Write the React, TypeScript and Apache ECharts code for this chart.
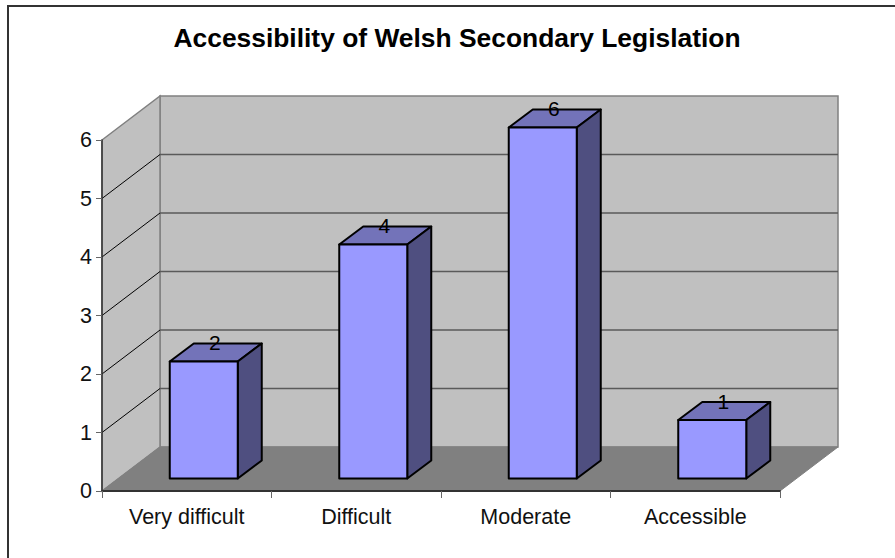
import React, { useEffect, useRef } from "react";
import * as echarts from "echarts";

const categories = ["Very difficult", "Difficult", "Moderate", "Accessible"];
const responses = [2, 4, 6, 1];
const yTicks = [0, 1, 2, 3, 4, 5, 6];

const FONT = "'Liberation Sans', Arial, sans-serif";
// Pseudo-3D projection: offset of the back wall from the front plane, and of the bars within the depth.
const DEPTH_X = 58;
const DEPTH_Y = -44;
const BAR_SHIFT_X = 17;
const BAR_SHIFT_Y = -12.5;
const BAR_DEPTH_X = 24;
const BAR_DEPTH_Y = -18;
const BAR_WIDTH = 68;

function renderWalls(_params: any, api: any) {
  const tick = api.value(0);
  const [x0, y0] = api.coord([0, 0]) as number[];
  const size = api.size([1, 0]) as number[];
  const x1 = x0 + size[0] * categories.length;
  const x0adj = x0 - size[0] / 2;
  const x1adj = x1 - size[0] / 2;
  const yT = api.coord([0, tick])[1];
  const children: any[] = [];
  const grey = { stroke: "#808080", lineWidth: 1.5 };
  if (tick === yTicks[yTicks.length - 1]) {
    // Back and side walls, once behind everything
    children.push({
      type: "polygon",
      shape: {
        points: [
          [x0adj + DEPTH_X, yT + DEPTH_Y],
          [x1adj + DEPTH_X, yT + DEPTH_Y],
          [x1adj + DEPTH_X, y0 + DEPTH_Y],
          [x0adj + DEPTH_X, y0 + DEPTH_Y],
        ],
      },
      style: { fill: "#c0c0c0", ...grey },
    });
    children.push({
      type: "polygon",
      shape: {
        points: [
          [x0adj, yT],
          [x0adj + DEPTH_X, yT + DEPTH_Y],
          [x0adj + DEPTH_X, y0 + DEPTH_Y],
          [x0adj, y0],
        ],
      },
      style: { fill: "#c0c0c0", ...grey },
    });
    children.push({
      type: "polygon",
      shape: {
        points: [
          [x0adj, y0],
          [x0adj + DEPTH_X, y0 + DEPTH_Y],
          [x1adj + DEPTH_X, y0 + DEPTH_Y],
          [x1adj, y0],
        ],
      },
      style: { fill: "#808080", stroke: "#808080", lineWidth: 1 },
    });
  }
  if (tick > 0 && tick < yTicks[yTicks.length - 1]) {
    children.push({
      type: "polyline",
      shape: {
        points: [
          [x0adj, yT],
          [x0adj + DEPTH_X, yT + DEPTH_Y],
        ],
      },
      style: { stroke: "#000", lineWidth: 1, fill: "none" },
    });
    children.push({
      type: "line",
      shape: { x1: x0adj + DEPTH_X, y1: yT + DEPTH_Y, x2: x1adj + DEPTH_X, y2: yT + DEPTH_Y },
      style: { stroke: "#5a5a5a", lineWidth: 1.5 },
    });
  }
  return { type: "group", children };
}

function renderBar(_params: any, api: any) {
  const idx = api.value(0);
  const val = api.value(1);
  const [cx, top] = api.coord([idx, val]) as number[];
  const bottom = api.coord([idx, 0])[1];
  const l = cx + BAR_SHIFT_X - BAR_WIDTH / 2;
  const r = l + BAR_WIDTH;
  const t = top + BAR_SHIFT_Y;
  const b = bottom + BAR_SHIFT_Y;
  const dx = BAR_DEPTH_X;
  const dy = BAR_DEPTH_Y;
  const edge = { stroke: "#000", lineWidth: 2, lineJoin: "round" };
  return {
    type: "group",
    children: [
      {
        type: "polygon",
        shape: { points: [[l, t], [l + dx, t + dy], [r + dx, t + dy], [r, t]] },
        style: { fill: "#7373b9", ...edge },
      },
      {
        type: "polygon",
        shape: { points: [[r, t], [r + dx, t + dy], [r + dx, b + dy], [r, b]] },
        style: { fill: "#4f4f80", ...edge },
      },
      {
        type: "rect",
        shape: { x: l, y: t, width: BAR_WIDTH, height: b - t },
        style: { fill: "#9999ff", ...edge },
      },
      {
        type: "text",
        style: {
          x: l + BAR_WIDTH / 2 + 11,
          y: t - 19,
          text: String(val),
          fill: "#000",
          font: `21px ${FONT}`,
          align: "center",
          verticalAlign: "middle",
        },
      },
    ],
  };
}

export default function App() {
  const ref = useRef<HTMLDivElement>(null);
  useEffect(() => {
    const chart = echarts.init(ref.current!, undefined, { renderer: "svg" });
    chart.setOption({
      animation: false,
      backgroundColor: "#fff",
      title: {
        text: "Accessibility of Welsh Secondary Legislation",
        left: 452,
        top: 20,
        textAlign: "center",
        textStyle: { fontFamily: FONT, fontWeight: "bold", fontSize: 26.4, color: "#000" },
      },
      grid: { left: 102, right: 115, top: 140, bottom: 67 },
      xAxis: {
        type: "category",
        data: categories,
        boundaryGap: true,
        axisLine: { lineStyle: { color: "#333", width: 2 } },
        axisTick: { show: true, alignWithLabel: false, length: 7, lineStyle: { color: "#666", width: 1 } },
        axisLabel: { fontFamily: FONT, fontSize: 21.5, color: "#111", margin: 15 },
        z: 5,
      },
      yAxis: {
        type: "value",
        min: 0,
        max: 6,
        interval: 1,
        splitLine: { show: false },
        axisLine: { show: true, lineStyle: { color: "#333", width: 1.5 } },
        axisTick: { show: true, length: 6, lineStyle: { color: "#666", width: 1 } },
        axisLabel: { fontFamily: FONT, fontSize: 21.5, color: "#111", margin: 10 },
        z: 5,
      },
      series: [
        {
          type: "custom",
          renderItem: renderWalls,
          data: yTicks.slice().reverse().map((t) => [t]),
          encode: { y: 0 },
          silent: true,
          z: 1,
          clip: false,
        },
        {
          type: "custom",
          renderItem: renderBar,
          data: responses.map((v, i) => [i, v]),
          encode: { x: 0, y: 1 },
          z: 2,
          clip: false,
        },
      ],
      graphic: [
        {
          type: "rect",
          shape: { x: 8, y: 6, width: 900, height: 570 },
          style: { fill: "none", stroke: "#333", lineWidth: 2 },
          silent: true,
        },
      ],
    });
    return () => chart.dispose();
  }, []);
  return <div ref={ref} style={{ position: "fixed", left: 0, top: 0, width: 895, height: 558 }} />;
}
